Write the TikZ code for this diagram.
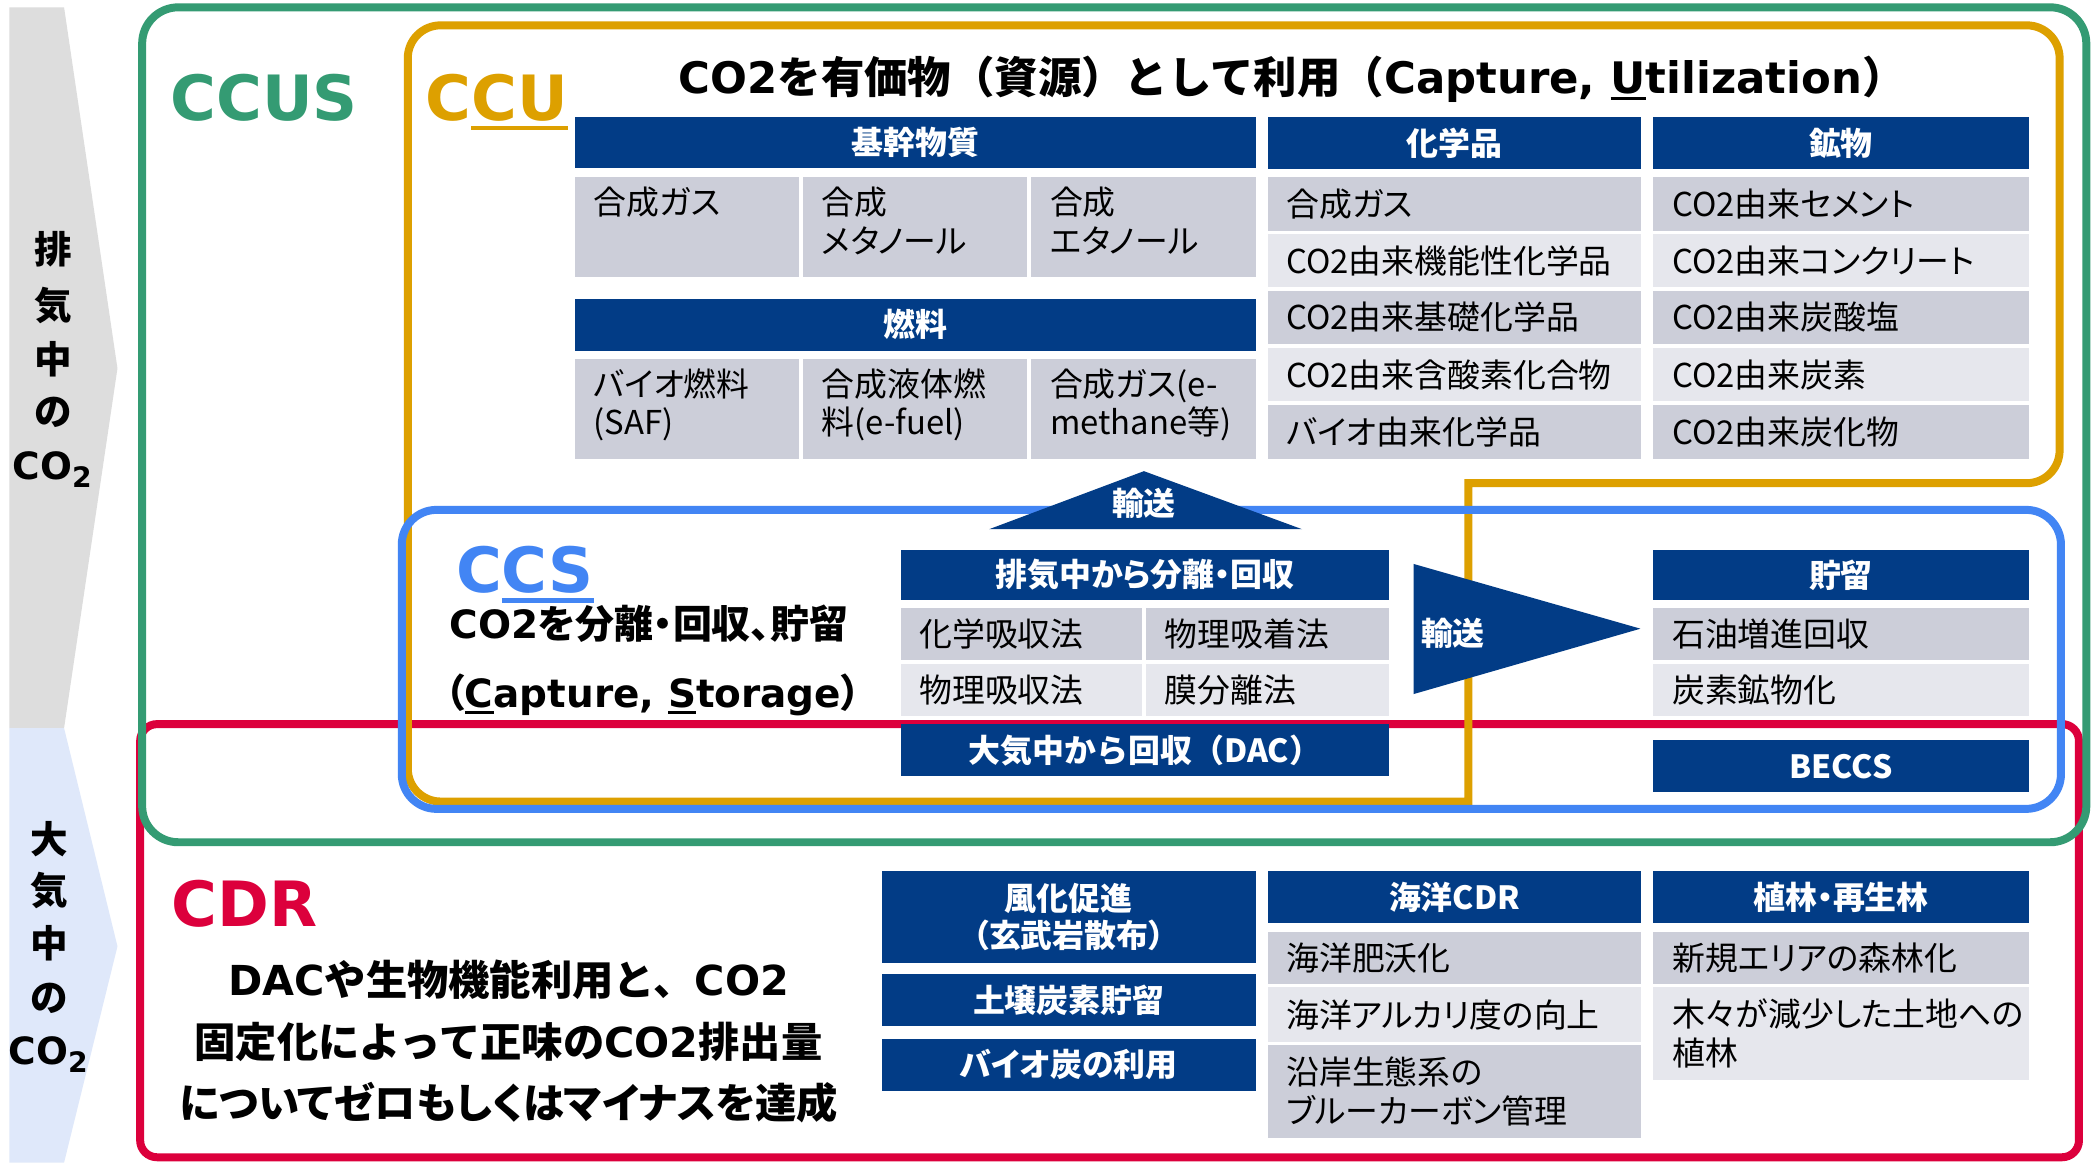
\documentclass[tikz,border=0pt]{standalone}
\usepackage{fontspec}
\setmainfont{Noto Sans CJK JP}[RawFeature={+palt}]
\newfontfamily\jpfull{Noto Sans CJK JP}
\newfontfamily\lat{DejaVu Sans}
\definecolor{cNavy}{RGB}{2,60,134}
\definecolor{cCellD}{RGB}{204,206,217}
\definecolor{cCellL}{RGB}{230,231,237}
\definecolor{cGreen}{RGB}{52,155,115}
\definecolor{cGold}{RGB}{221,160,0}
\definecolor{cBlue}{RGB}{66,133,244}
\definecolor{cRed}{RGB}{220,0,60}
\definecolor{cGrayArrow}{RGB}{221,221,221}
\definecolor{cBlueArrow}{RGB}{223,232,250}
\newcommand\fcell{\fontsize{7}{8.25}\selectfont}
\newcommand\fhdr{\fontsize{6.8}{7.8}\selectfont}
\newcommand\ftitle{\fontsize{9.25}{10}\selectfont}
\newcommand\fccs{\fontsize{8.3}{10}\selectfont}
\newcommand\fcdr{\fontsize{8.8}{13}\selectfont}
\newcommand\fbig{\fontsize{13.3}{15}\selectfont}
\newcommand\fvert{\fontsize{8}{9}\selectfont}
\newcommand\myul[1]{\setbox0=\hbox{#1}\rlap{\rule[-0.16em]{\wd0}{0.07em}}\box0}
\newcommand\lift{\rule[-3pt]{0pt}{0pt}}
\newcommand\cellbox[7]{%
  \pgfmathsetmacro\cbw{(#4-28)*0.01}%
  \pgfmathsetmacro\cbh{#5*0.01}%
  \node[#6, text width=\cbw cm, minimum height=\cbh cm] (#1) at (#2,#3) {#7};}
\newcommand\hdrbox[6]{%
  \pgfmathsetmacro\cbw{#4*0.01}%
  \pgfmathsetmacro\cbh{#5*0.01}%
  \node[hdr, minimum width=\cbw cm, minimum height=\cbh cm] (#1) at (#2,#3) {#6};}
\tikzset{
  hdr/.style={fill=cNavy, text=white, font=\fhdr\bfseries, inner sep=0pt, anchor=north west, align=center},
  cellD/.style={fill=cCellD, text=black, font=\fcell, inner xsep=0.14cm, inner ysep=0pt, anchor=north west, align=left},
  cellL/.style={cellD, fill=cCellL},
  outline/.style={line width=1.7pt},
  bighead/.style={anchor=base west, inner sep=0pt, font=\lat\bfseries\fbig},
  vt/.style={inner sep=0pt, font=\fvert\bfseries, text=black},
  tritext/.style={inner sep=0pt, font=\fhdr\bfseries, text=white},
}
\begin{document}
\begin{tikzpicture}[x=0.01cm, y=-0.01cm]
\useasboundingbox (0,0) rectangle (1568,871);
\fill[white] (0,0) rectangle (1568,871);
% left chevrons
\fill[cGrayArrow] (7,5.5) -- (48,5.5) -- (88,276) -- (48,545.5) -- (7,545.5) -- cycle;
\fill[cBlueArrow] (7,545.5) -- (48,545.5) -- (88,709) -- (48,871) -- (7,871) -- cycle;
\foreach \c/\yy [count=\i] in {排/187,気/229,中/269,の/309}
  \node[vt] (va\i) at (40,\yy) {\c};
\node[vt] (va5) at (40,352) {\lat CO\textsubscript{2}};
\foreach \c/\yy [count=\i] in {大/629,気/667,中/707,の/748}
  \node[vt] (vb\i) at (37,\yy) {\c};
\node[vt] (vb5) at (37,790) {\lat CO\textsubscript{2}};
% outlines
\draw[outline, cRed, rounded corners=3.6pt] (105,542.5) rectangle (1557.5,867);
\draw[outline, cGreen, rounded corners=7.7pt] (106.5,5.5) rectangle (1563,631);
\draw[outline, cGold, line cap=rect] (1100,362) -- (1100,600.5) [rounded corners=7pt] -- (305.5,600.5) -- (305.5,19) -- (1543,19) -- (1543,362) [sharp corners] -- (1100,362);
\draw[outline, cBlue, rounded corners=7.4pt] (301,382) rectangle (1544,606);
% headings
\node[bighead, text=cGreen] (ccus) at (127,90) {CCUS};
\node[bighead, text=cGold] (ccu) at (318,90) {C\myul{CU}};
\node[bighead, text=cBlue] (ccs) at (341,444) {C\myul{CS}};
\node[bighead, text=cRed] (cdr) at (128,694) {CDR};
\node[anchor=base, inner sep=0pt, font=\jpfull\bfseries\ftitle] (title) at (968,70)
  {{\lat CO2}を有価物（資源）として利用（{\lat Capture, \myul{U}tilization}）};
\node[anchor=base west, inner sep=0pt, font=\fccs\bfseries] (ccsd1) at (336,478) {{\lat CO2}を分離・回収、貯留};
\node[anchor=base west, inner sep=0pt, font=\fccs\bfseries] (ccsd2) at (333,530) {（{\lat \myul{C}apture, \myul{S}torage}）};
\node[anchor=base, inner sep=0pt, font=\jpfull\fcdr\bfseries] (cdr1) at (381,746) {{\lat DAC}や生物機能利用と、{\lat CO2}};
\node[anchor=base, inner sep=0pt, font=\jpfull\fcdr\bfseries] (cdr2) at (381,792) {固定化によって正味の{\lat CO2}排出量};
\node[anchor=base, inner sep=0pt, font=\fcdr\bfseries] (cdr3) at (381,838) {についてゼロもしくはマイナスを達成};
% CCU tables
\hdrbox{hk}{430}{87}{510}{38}{基幹物質}
\cellbox{hk1}{430}{132}{168}{75}{cellD}{合成ガス\\\lift}
\cellbox{hk2}{601}{132}{168}{75}{cellD}{合成\\メタノール\lift}
\cellbox{hk3}{772}{132}{168}{75}{cellD}{合成\\エタノール\lift}
\hdrbox{nr}{430}{223}{510}{39}{燃料}
\cellbox{nr1}{430}{268}{168}{75}{cellD}{バイオ燃料\\(SAF)\lift}
\cellbox{nr2}{601}{268}{168}{75}{cellD}{合成液体燃\\料(e-fuel)\lift}
\cellbox{nr3}{772}{268}{168}{75}{cellD}{合成ガス(e-\\methane等)\lift}
\hdrbox{kg}{949}{87}{280}{39}{化学品}
\cellbox{kg1}{949}{132}{280}{40}{cellD}{合成ガス}
\cellbox{kg2}{949}{174.5}{280}{40}{cellL}{CO2由来機能性化学品}
\cellbox{kg3}{949}{217}{280}{40}{cellD}{CO2由来基礎化学品}
\cellbox{kg4}{949}{260}{280}{40}{cellL}{CO2由来含酸素化合物}
\cellbox{kg5}{949}{303}{280}{40}{cellD}{バイオ由来化学品}
\hdrbox{kb}{1238}{87}{281}{39}{鉱物}
\cellbox{kb1}{1238}{132}{281}{40}{cellD}{CO2由来セメント}
\cellbox{kb2}{1238}{174.5}{281}{40}{cellL}{CO2由来コンクリート}
\cellbox{kb3}{1238}{217}{281}{40}{cellD}{CO2由来炭酸塩}
\cellbox{kb4}{1238}{260}{281}{40}{cellL}{CO2由来炭素}
\cellbox{kb5}{1238}{303}{281}{40}{cellD}{CO2由来炭化物}
% transport arrows
\fill[cNavy] (857,353) -- (975.5,396.5) -- (741,396.5) -- cycle;
\node[tritext] (tr1) at (857,377) {輸送};
\fill[cNavy] (1059,422.5) -- (1229,471) -- (1059,520) -- cycle;
\node[tritext] (tr2) at (1088.5,474.5) {輸送};
% CCS tables
\hdrbox{hs}{674}{411}{366}{38}{排気中から分離・回収}
\cellbox{hs1}{674}{455}{181}{39}{cellD}{化学吸収法}
\cellbox{hs2}{858}{455}{182}{39}{cellD}{物理吸着法}
\cellbox{hs3}{674}{497}{181}{39}{cellL}{物理吸収法}
\cellbox{hs4}{858}{497}{182}{39}{cellL}{膜分離法}
\hdrbox{dac}{674}{542}{366}{39}{\jpfull 大気中から回収（DAC）}
\hdrbox{cy}{1238}{411}{281}{38}{貯留}
\cellbox{cy1}{1238}{455}{281}{39}{cellD}{石油増進回収}
\cellbox{cy2}{1238}{497}{281}{39}{cellL}{炭素鉱物化}
\hdrbox{beccs}{1238}{554}{281}{39}{BECCS}
% CDR tables
\hdrbox{fk}{660}{652}{280}{68.5}{風化促進\\（玄武岩散布）}
\hdrbox{dj}{660}{729}{280}{39}{土壌炭素貯留}
\hdrbox{bc}{660}{777.5}{280}{39}{バイオ炭の利用}
\hdrbox{ky}{949}{652}{280}{39}{海洋CDR}
\cellbox{ky1}{949}{697.5}{280}{39}{cellD}{海洋肥沃化}
\cellbox{ky2}{949}{739}{280}{41}{cellL}{海洋アルカリ度の向上}
\cellbox{ky3}{949}{782}{280}{70}{cellD}{沿岸生態系の\\ブルーカーボン管理}
\hdrbox{sr}{1238}{652}{281}{39}{植林・再生林}
\cellbox{sr1}{1238}{697.5}{281}{39}{cellD}{新規エリアの森林化}
\cellbox{sr2}{1238}{739}{281}{69.5}{cellL}{木々が減少した土地への\\植林}
\end{tikzpicture}
\end{document}
